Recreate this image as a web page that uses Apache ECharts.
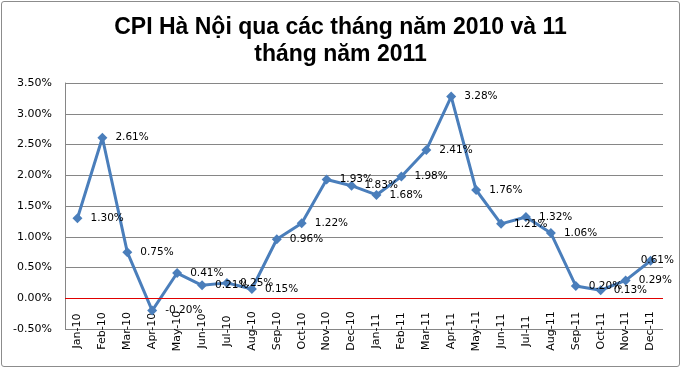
<!DOCTYPE html>
<html><head><meta charset="utf-8">
<script src="https://cdn.jsdelivr.net/npm/echarts@6/dist/echarts.min.js"></script>
<style>
html,body{margin:0;padding:0;background:#fff;}
#c{position:absolute;left:0;top:0;width:681px;height:368px;}
#b{position:absolute;left:1px;top:1px;width:677px;height:364px;border:1px solid #8c8c8c;border-radius:3px;pointer-events:none;}
</style></head>
<body>
<div id="c"></div><div id="b"></div>
<script>
const titleText = "CPI Hà Nội qua các tháng năm 2010 và 11\ntháng năm 2011";
const categories = ["Jan-10","Feb-10","Mar-10","Apr-10","May-10","Jun-10","Jul-10","Aug-10","Sep-10","Oct-10","Nov-10","Dec-10","Jan-11","Feb-11","Mar-11","Apr-11","May-11","Jun-11","Jul-11","Aug-11","Sep-11","Oct-11","Nov-11","Dec-11"];
const cpiValues = [1.30,2.61,0.75,-0.20,0.41,0.21,0.25,0.15,0.96,1.22,1.93,1.83,1.68,1.98,2.41,3.28,1.76,1.21,1.32,1.06,0.20,0.13,0.29,0.61];
const yMin = -0.5, yMax = 3.5, yStep = 0.5;

const chart = echarts.init(document.getElementById('c'), null, {renderer:'canvas'});
const font = 'DejaVu Sans';
chart.setOption({
  animation:false,
  title:{text:titleText,left:'center',top:9,
    textStyle:{fontFamily:'Liberation Sans',fontWeight:'bold',fontSize:23,color:'#000',lineHeight:27}},
  grid:{left:65,right:18,top:83,bottom:39,containLabel:false},
  xAxis:{type:'category',data:categories,boundaryGap:true,
    axisLine:{show:false},axisTick:{show:false},
    axisLabel:{rotate:90,interval:0,align:'center',verticalAlign:'middle',margin:2,
      fontFamily:font,fontSize:11,color:'#000'}},
  yAxis:{type:'value',min:yMin,max:yMax,interval:yStep,
    axisLine:{show:true,lineStyle:{color:'#868686',width:1}},
    axisTick:{show:false},
    splitLine:{show:true,lineStyle:{color:'#868686',width:1}},
    axisLabel:{margin:13,fontFamily:font,fontSize:11,color:'#000',
      formatter:v=>v.toFixed(2)+'%'}},
  series:[{type:'line',data:cpiValues,symbol:'diamond',symbolSize:10,
    lineStyle:{color:'#4A7EBB',width:3},
    itemStyle:{color:'#4A7EBB'},
    label:{show:true,position:'right',distance:8,fontFamily:font,fontSize:10.5,color:'#000',
      formatter:p=>p.value.toFixed(2)+'%'},
    labelLayout:function(p){
      const r=p.labelRect;
      if(r.x+r.width>674){return {x:674-r.width, y:r.y+r.height/2, align:'left', verticalAlign:'middle'};}
      return {};
    },
    markLine:{silent:true,symbol:'none',label:{show:false},
      lineStyle:{color:'#E00000',width:1,type:'solid'},data:[{yAxis:0}]}
  }]
});
</script>
</body></html>
